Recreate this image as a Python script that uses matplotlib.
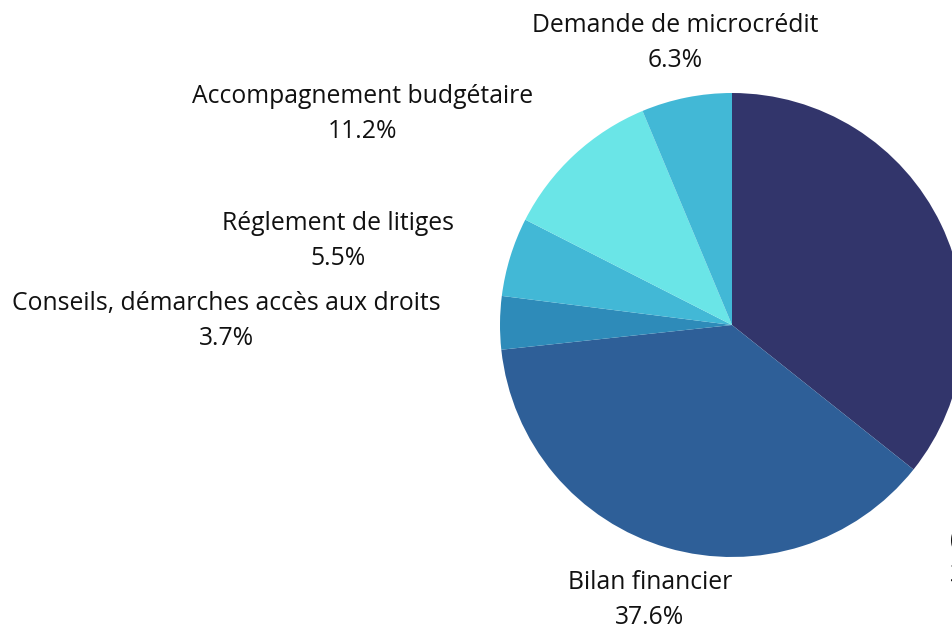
import matplotlib
matplotlib.use("Agg")
import matplotlib.pyplot as plt

categories = ["(vide)", "Bilan financier", "Conseils, démarches accès aux droits",
              "Réglement de litiges", "Accompagnement budgétaire", "Demande de microcrédit"]
values = [35.7, 37.6, 3.7, 5.5, 11.2, 6.3]
colors = ["#32356b", "#2e5f98", "#2e8bb9", "#42b8d6", "#6ae5e7", "#42b8d6"]

# label centre positions in pixels (x from left, y from top)
label_pos = [(950, 558), (650, 600), (226, 321), (338, 241), (363, 114), (675, 43)]

W, H = 952, 630
fig = plt.figure(figsize=(W / 100, H / 100), dpi=100)
ax = fig.add_axes([0, 0, 1, 1])

ax.pie(values, colors=colors, startangle=90, counterclock=False,
       center=(732, H - 325), radius=232, frame=True,
       wedgeprops=dict(linewidth=0))
ax.set_xlim(0, W)
ax.set_ylim(0, H)
ax.set_aspect("equal")
ax.axis("off")

fam = ['Open Sans', 'DejaVu Sans']
for i, (cat, val) in enumerate(zip(categories, values)):
    x, y = label_pos[i]
    txt = f"{cat}\n{val:.1f}%"
    if i == 0:
        ax.text(x, H - y, txt, ha="left", va="center", multialignment="left",
                fontsize=17.8, color="#111111", linespacing=1.55, family=fam)
    else:
        ax.text(x, H - y, txt, ha="center", va="center", multialignment="center",
                fontsize=17.8, color="#111111", linespacing=1.55, family=fam)

fig.savefig("out.png", dpi=100)
